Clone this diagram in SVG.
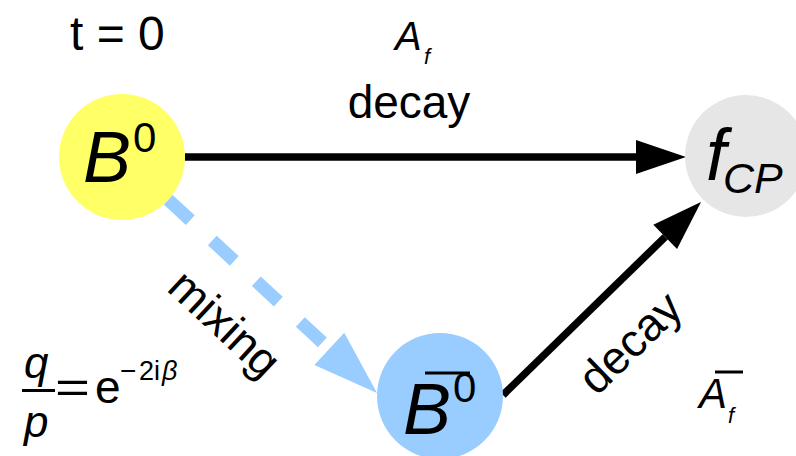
<svg xmlns="http://www.w3.org/2000/svg" width="796" height="456" viewBox="0 0 796 456">
<style>
.t{font-family:"Liberation Sans",Arial,sans-serif;fill:#000}
.i{font-style:italic}
.blk{stroke:#000;stroke-width:7.5;fill:none}
.mix{stroke:#99ccff;stroke-width:13;fill:none;stroke-dasharray:30 30}
.bar{stroke:#000;stroke-width:3}
</style>
<defs>
<marker id="ah" markerUnits="userSpaceOnUse" markerWidth="50" markerHeight="34" refX="0" refY="17" orient="auto" overflow="visible">
<path d="M0,0 L50,17 L0,34 z" fill="#000"/>
</marker>
<marker id="ahb" markerUnits="userSpaceOnUse" markerWidth="65" markerHeight="44" refX="0" refY="22" orient="auto" overflow="visible">
<path d="M0,0 L65,22 L0,44 z" fill="#99ccff"/>
</marker>
</defs>
<rect width="796" height="456" fill="#fff"/>
<g id="connectors">
<line class="blk" x1="185" y1="157" x2="636" y2="157" marker-end="url(#ah)"/>
<line class="blk" x1="503" y1="395" x2="665.2" y2="236.9" marker-end="url(#ah)"/>
<line class="mix" x1="124.2" y1="159" x2="329.3" y2="348.8" marker-end="url(#ahb)"/>
</g>
<g id="node-B0">
<circle cx="122" cy="157" r="63" fill="#ffff66"/>
<text class="t i" x="83" y="182" font-size="72">B</text>
<text class="t" x="133" y="152" font-size="42">0</text>
</g>
<g id="node-B0bar">
<circle cx="440" cy="396" r="63" fill="#99ccff"/>
<text class="t i" x="403" y="434" font-size="72">B</text>
<text class="t" x="453" y="402" font-size="42">0</text>
<line class="bar" x1="425" y1="373" x2="470" y2="373" stroke-width="3.5"/>
</g>
<g id="node-fCP">
<circle cx="746" cy="156" r="61" fill="#e6e6e6"/>
<text class="t i" x="706" y="180" font-size="72">f</text>
<text class="t i" x="723" y="193" font-size="43">CP</text>
</g>
<g id="labels">
<text class="t" x="70" y="50" font-size="48">t = 0</text>
<text class="t i" x="395" y="50" font-size="40">A</text>
<text class="t i" x="424" y="64" font-size="22">f</text>
<text class="t" x="409" y="118" font-size="46" text-anchor="middle">decay</text>
<text class="t" font-size="46" text-anchor="middle" transform="translate(214,335) rotate(43)">mixing</text>
<text class="t" font-size="46" text-anchor="middle" transform="translate(641,354) rotate(-44)">decay</text>
<text class="t i" x="699" y="408" font-size="42">A</text>
<text class="t i" x="728" y="423" font-size="22">f</text>
<line class="bar" x1="715" y1="372" x2="743" y2="372"/>
<text class="t i" x="24" y="378" font-size="44">q</text>
<line class="bar" x1="22" y1="390.5" x2="55" y2="390.5"/>
<text class="t i" x="24" y="437" font-size="44">p</text>
<text class="t" x="55" y="403" font-size="44" textLength="35" lengthAdjust="spacingAndGlyphs">=</text>
<text class="t" x="95" y="403" font-size="46">e</text>
<text class="t" x="120" y="380" font-size="28">−</text>
<text class="t" x="139" y="380" font-size="27">2i</text>
<text class="t i" x="162" y="380" font-size="27">β</text>
</g>
</svg>
